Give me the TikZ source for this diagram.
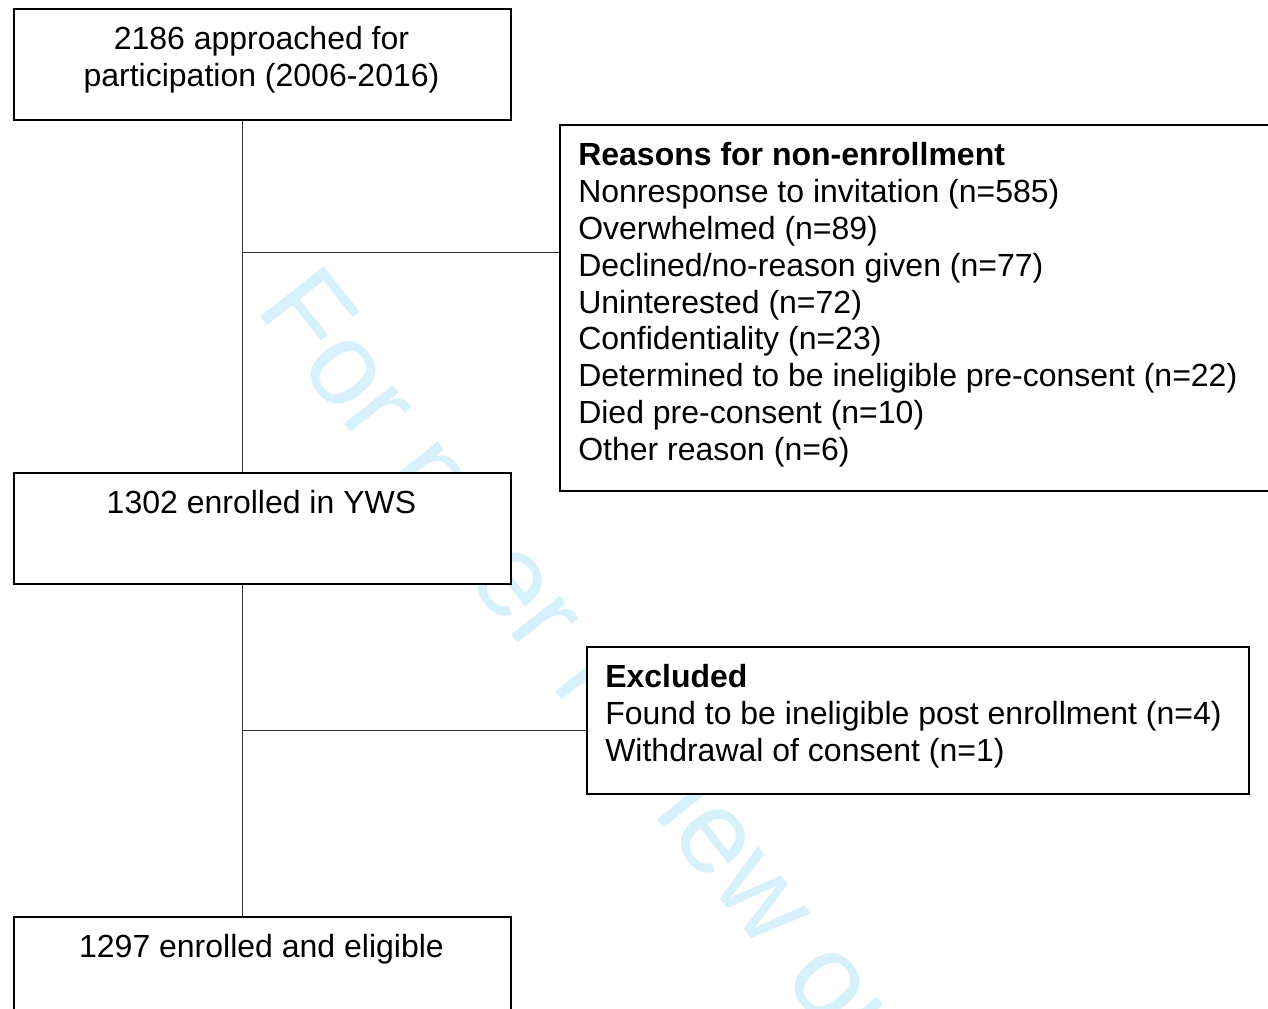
\documentclass[tikz,border=0pt]{standalone}
\usepackage{fontspec}
\setmainfont{Liberation Sans}
\definecolor{wm}{RGB}{214,240,252}
\begin{document}
\begin{tikzpicture}[x=0.75pt,y=-0.75pt,
  box/.style={draw=black, line width=1.5pt, fill=white, rectangle, inner sep=0pt, anchor=north west},
  conn/.style={draw=black!80, line width=0.75pt},
  txt/.style={inner sep=0pt, font=\fontsize{24pt}{27.6pt}\selectfont}]
\clip (0,0) rectangle (1268,1009);
\fill[white] (0,0) rectangle (1268,1009);
% watermark
\node[rotate=-51.7, anchor=base west, inner sep=0pt, text=wm,
      font=\fontsize{88.5pt}{100pt}\selectfont] (wmark) at (254,309.3) {For peer review only};
% boxes
\node[box, minimum width=372.75pt, minimum height=83.25pt] (approached) at (13,8) {};
\node[box, minimum width=555pt, minimum height=274.5pt] (reasons) at (559,124) {};
\node[box, minimum width=372.75pt, minimum height=83.25pt] (enrolled) at (13,472) {};
\node[box, minimum width=496.5pt, minimum height=110.25pt] (excluded) at (586,646) {};
\node[box, minimum width=372.75pt, minimum height=83.25pt] (eligible) at (13,916) {};
% connectors
\coordinate (j1) at (242,253);
\coordinate (j2) at (242,730);
\draw[conn] (j1 |- approached.south) -- (j1 |- enrolled.north);
\draw[conn] (j1) -- (j1 -| reasons.west);
\draw[conn] (j2 |- enrolled.south) -- (j2 |- eligible.north);
\draw[conn] (j2) -- (j2 -| excluded.west);
% texts
\node[txt, anchor=north, align=center] (t1) at (261.5,24.2)
  {\rule{0pt}{19pt}2186 approached for\\participation (2006-2016)};
\node[txt, anchor=north west, align=left] (t2) at (578,140.2)
  {\rule{0pt}{19pt}\textbf{Reasons for non-enrollment}\\
   Nonresponse to invitation (n=585)\\
   Overwhelmed (n=89)\\
   Declined/no-reason given (n=77)\\
   Uninterested (n=72)\\
   Confidentiality (n=23)\\
   Determined to be ineligible pre-consent (n=22)\\
   Died pre-consent (n=10)\\
   Other reason (n=6)};
\node[txt, anchor=north, align=center] (t3) at (261.5,488.2)
  {\rule{0pt}{19pt}1302 enrolled in YWS};
\node[txt, anchor=north west, align=left] (t4) at (605,662.2)
  {\rule{0pt}{19pt}\textbf{Excluded}\\
   Found to be ineligible post enrollment (n=4)\\
   Withdrawal of consent (n=1)};
\node[txt, anchor=north, align=center] (t5) at (261.5,932.2)
  {\rule{0pt}{19pt}1297 enrolled and eligible};
\end{tikzpicture}
\end{document}
